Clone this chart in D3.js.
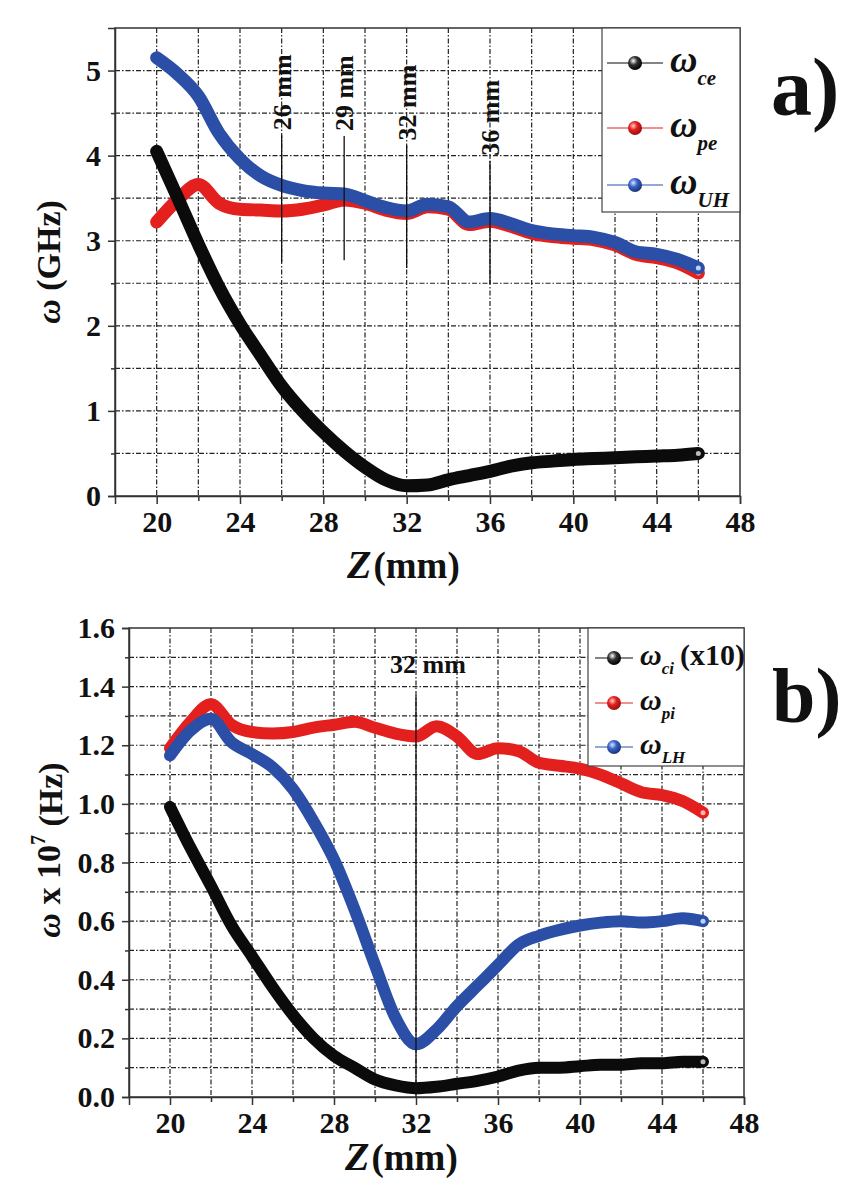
<!DOCTYPE html>
<html>
<head>
<meta charset="utf-8">
<script src="https://cdn.jsdelivr.net/npm/d3@7/dist/d3.min.js"></script>
<style>
  body { margin: 0; background: #ffffff; }
  svg text { font-family: "Liberation Serif", "Times New Roman", serif; font-weight: bold; fill: #111; }
</style>
</head>
<body>
<script>
// positions along the axis (mm)
var zPos = [20, 21, 22, 23, 24, 25, 26, 27, 28, 29, 30, 31, 32, 33, 34, 35, 36, 37, 38, 39, 40, 41, 42, 43, 44, 45, 46];

// panel a) electron frequencies (GHz)
var wce = [4.05, 3.51, 2.96, 2.45, 2.02, 1.65, 1.29, 1.00, 0.75, 0.53, 0.34, 0.19, 0.12, 0.13, 0.19, 0.24, 0.29, 0.35, 0.39, 0.41, 0.43, 0.44, 0.45, 0.46, 0.47, 0.48, 0.50];
var wpe = [3.22, 3.48, 3.66, 3.44, 3.37, 3.36, 3.35, 3.37, 3.42, 3.48, 3.44, 3.36, 3.32, 3.40, 3.37, 3.19, 3.23, 3.17, 3.09, 3.05, 3.03, 3.01, 2.95, 2.84, 2.80, 2.74, 2.62];
var wuh = [5.15, 4.96, 4.70, 4.26, 3.96, 3.76, 3.65, 3.59, 3.56, 3.55, 3.47, 3.39, 3.35, 3.43, 3.40, 3.22, 3.26, 3.20, 3.12, 3.08, 3.06, 3.04, 2.98, 2.87, 2.84, 2.78, 2.68];

// panel b) ion frequencies (x 10^7 Hz)
var wci = [0.99, 0.85, 0.72, 0.585, 0.48, 0.375, 0.28, 0.20, 0.14, 0.10, 0.06, 0.04, 0.03, 0.035, 0.045, 0.055, 0.07, 0.09, 0.10, 0.10, 0.105, 0.11, 0.11, 0.115, 0.115, 0.12, 0.12];
var wpi = [1.19, 1.28, 1.34, 1.27, 1.245, 1.24, 1.245, 1.26, 1.27, 1.28, 1.26, 1.24, 1.23, 1.265, 1.23, 1.17, 1.19, 1.18, 1.14, 1.13, 1.12, 1.10, 1.07, 1.04, 1.03, 1.01, 0.97];
var wlh = [1.165, 1.25, 1.29, 1.21, 1.17, 1.125, 1.05, 0.94, 0.81, 0.64, 0.45, 0.27, 0.18, 0.23, 0.31, 0.38, 0.45, 0.52, 0.55, 0.57, 0.585, 0.595, 0.60, 0.595, 0.60, 0.61, 0.60];

// ticks and grid
var xTicks = [20, 24, 28, 32, 36, 40, 44, 48];
var xMinor = [22, 26, 30, 34, 38, 42, 46];
var xGrid = [20, 22, 24, 26, 28, 30, 32, 34, 36, 38, 40, 42, 44, 46];
var yTicksA = [0, 1, 2, 3, 4, 5];
var yGridA = [0.5, 1, 1.5, 2, 2.5, 3, 3.5, 4, 4.5, 5];
var yTicksB = [0, 0.2, 0.4, 0.6, 0.8, 1.0, 1.2, 1.4, 1.6];
var yGridB = [0.1, 0.2, 0.3, 0.4, 0.5, 0.6, 0.7, 0.8, 0.9, 1.0, 1.1, 1.2, 1.3, 1.4, 1.5];

// marked positions
var markZA = [26, 29, 32, 36];
var markTopA = [4.24, 4.23, 4.12, 3.94];
var markBotA = [2.75, 2.77, 2.68, 2.49];
var markZB = [32];
var markTopB = [1.37];
var markBotB = [0];

var RED = '#e3201d', BLUE = '#2b4fa6', BLACK = '#0b0b0b';

var svg = d3.select('body').append('svg')
  .attr('width', 847)
  .attr('height', 1185);

var defs = svg.append('defs');
[['gk', '#ffffff', '#333', '#000'], ['gr', '#ffd0d0', RED, '#9a1010'], ['gb', '#d8e6ff', '#3a63c8', '#1a3475']]
  .forEach(function (c) {
    var rg = defs.append('radialGradient').attr('id', c[0])
      .attr('cx', '38%').attr('cy', '35%').attr('r', '65%');
    rg.append('stop').attr('offset', '0%').attr('stop-color', c[1]);
    rg.append('stop').attr('offset', '45%').attr('stop-color', c[2]);
    rg.append('stop').attr('offset', '100%').attr('stop-color', c[3]);
  });

function drawPanel(opts) {
  var g = svg.append('g');
  var x = d3.scaleLinear().domain([18, 48]).range([opts.left, opts.right]);
  var y = d3.scaleLinear().domain(opts.yDomain).range([opts.bottom, opts.top]);

  // dash-dot grid
  g.append('g').selectAll('line')
    .data(xGrid)
    .enter().append('line')
    .attr('x1', function (d) { return x(d); })
    .attr('x2', function (d) { return x(d); })
    .attr('y1', opts.top)
    .attr('y2', opts.bottom)
    .attr('stroke', '#222')
    .attr('stroke-width', 1.2)
    .attr('stroke-dasharray', '5,2,1.5,2');
  g.append('g').selectAll('line')
    .data(opts.yGrid)
    .enter().append('line')
    .attr('x1', opts.left)
    .attr('x2', opts.right)
    .attr('y1', function (d) { return y(d); })
    .attr('y2', function (d) { return y(d); })
    .attr('stroke', '#222')
    .attr('stroke-width', 1.2)
    .attr('stroke-dasharray', '5,2,1.5,2');

  // axes
  g.append('g')
    .attr('transform', 'translate(0,' + opts.bottom + ')')
    .call(d3.axisBottom(x).tickValues(xTicks).tickSize(8).tickPadding(7).tickFormat(d3.format('d')));
  g.append('g')
    .attr('transform', 'translate(0,' + opts.bottom + ')')
    .call(d3.axisBottom(x).tickValues(xMinor).tickSize(5).tickFormat(''))
    .select('.domain').remove();
  g.append('g')
    .attr('transform', 'translate(' + opts.left + ',0)')
    .call(d3.axisLeft(y).tickValues(opts.yTicks).tickSize(7).tickPadding(7).tickFormat(opts.fmt));
  g.append('g')
    .attr('transform', 'translate(' + opts.left + ',0)')
    .call(d3.axisLeft(y).tickValues(opts.yMinor).tickSize(4).tickFormat(''))
    .select('.domain').remove();
  g.selectAll('.tick line').attr('stroke', '#333').attr('stroke-width', 1.5);
  g.selectAll('.domain').attr('stroke', '#333').attr('stroke-width', 1.5);
  g.selectAll('.tick text')
    .style('font-size', opts.tickSize + 'px')
    .attr('fill', '#111');

  g.append('rect')
    .attr('x', opts.left)
    .attr('y', opts.top)
    .attr('width', opts.right - opts.left)
    .attr('height', opts.bottom - opts.top)
    .attr('fill', 'none')
    .attr('stroke', '#333')
    .attr('stroke-width', 1.5);

  // curves
  var line = d3.line()
    .x(function (d, i) { return x(zPos[i]); })
    .y(function (d) { return y(d); })
    .curve(d3.curveMonotoneX);

  opts.series.forEach(function (s) {
    g.append('path')
      .attr('d', line(s.values))
      .attr('fill', 'none')
      .attr('stroke', s.color)
      .attr('stroke-width', opts.lineWidth)
      .attr('stroke-linejoin', 'round')
      .attr('stroke-linecap', 'round');
    g.append('circle')
      .attr('cx', x(zPos[zPos.length - 1]))
      .attr('cy', y(s.values[s.values.length - 1]))
      .attr('r', 2.5)
      .attr('fill', s.hi);
  });

  // marked positions
  opts.marks.z.forEach(function (z, i) {
    g.append('line')
      .attr('x1', x(z)).attr('x2', x(z))
      .attr('y1', y(opts.marks.top[i]))
      .attr('y2', y(opts.marks.bottom[i]))
      .attr('stroke', '#111')
      .attr('stroke-width', 1.3);
    if (opts.marks.rotated) {
      g.append('text')
        .attr('transform', 'translate(' + x(z) + ',' + (y(opts.marks.top[i]) - 5) + ') rotate(-90)')
        .attr('dy', '0.35em')
        .style('font-size', opts.markSize + 'px')
        .style('text-anchor', 'start')
        .text(z + ' mm');
    } else {
      g.append('text')
        .attr('x', x(z) + 12)
        .attr('y', y(opts.marks.top[i]) - 22)
        .style('font-size', opts.markSize + 'px')
        .style('text-anchor', 'middle')
        .text(z + ' mm');
    }
  });

  // legend
  var lg = opts.legend;
  g.append('rect')
    .attr('x', lg.x).attr('y', opts.top)
    .attr('width', opts.right - lg.x)
    .attr('height', lg.h)
    .attr('fill', 'white')
    .attr('stroke', '#444')
    .attr('stroke-width', 1.2);
  opts.series.forEach(function (s) {
    var ry = opts.top + lg.rows[s.leg];
    g.append('line')
      .attr('x1', lg.x + lg.l1).attr('x2', lg.x + lg.l2)
      .attr('y1', ry).attr('y2', ry)
      .attr('stroke', s.color)
      .attr('stroke-width', 1);
    g.append('circle')
      .attr('cx', lg.x + (lg.l1 + lg.l2) / 2)
      .attr('cy', ry)
      .attr('r', lg.r)
      .attr('fill', 'url(#' + s.grad + ')');
    var t = g.append('text')
      .attr('x', lg.x + lg.tx)
      .attr('y', ry + lg.dy)
      .style('font-size', lg.size + 'px');
    t.append('tspan').style('font-style', 'italic').text('\u03c9');
    t.append('tspan')
      .attr('dy', lg.subDy)
      .style('font-style', 'italic')
      .style('font-size', lg.subSize + 'px')
      .text(s.sub);
    if (s.extra) {
      t.append('tspan')
        .attr('dy', -lg.subDy)
        .attr('dx', 6)
        .text(s.extra);
    }
  });

  // panel letter
  svg.append('text')
    .attr('x', opts.letter[0])
    .attr('y', opts.letter[1])
    .style('font-size', opts.letter[3] + 'px')
    .text(opts.letter[2]);

  // axis titles
  var xt = svg.append('text')
    .attr('x', opts.xTitle[0])
    .attr('y', opts.xTitle[1])
    .style('font-size', '37px');
  xt.append('tspan').style('font-style', 'italic').style('font-size', '40px').text('Z');
  xt.append('tspan').attr('dx', 2).text('(mm)');

  var yt = svg.append('text')
    .attr('transform', 'translate(' + opts.yTitle[0] + ',' + opts.yTitle[1] + ') rotate(-90)')
    .style('text-anchor', 'middle')
    .style('font-size', '34px');
  opts.yTitleParts.forEach(function (p) {
    var sp = yt.append('tspan').text(p.t);
    if (p.italic) sp.style('font-style', 'italic');
    if (p.dy) sp.attr('dy', p.dy);
    if (p.size) sp.style('font-size', p.size + 'px');
  });
}

drawPanel({
  left: 115, right: 740, top: 28, bottom: 496,
  yDomain: [0, 5.5],
  yTicks: yTicksA,
  yMinor: [0.5, 1.5, 2.5, 3.5, 4.5],
  yGrid: yGridA,
  fmt: d3.format('d'),
  tickSize: 30,
  lineWidth: 13,
  markSize: 26,
  marks: { z: markZA, top: markTopA, bottom: markBotA, rotated: true },
  series: [
    { values: wpe, color: RED, hi: '#ffb0b0', grad: 'gr', sub: 'pe', leg: 1 },
    { values: wuh, color: BLUE, hi: '#b8d4f4', grad: 'gb', sub: 'UH', leg: 2 },
    { values: wce, color: BLACK, hi: '#bbbbbb', grad: 'gk', sub: 'ce', leg: 0 }
  ],
  legend: { x: 602, h: 184, rows: [35, 100, 157], l1: 5, l2: 61, r: 7, tx: 68, dy: 9, size: 38, subDy: 13, subSize: 21 },
  letter: [771, 115, 'a)', 82],
  xTitle: [347, 578],
  yTitle: [60, 262],
  yTitleParts: [{ t: '\u03c9', italic: true }, { t: ' (GHz)' }]
});

drawPanel({
  left: 129, right: 744, top: 628, bottom: 1097,
  yDomain: [0, 1.6],
  yTicks: yTicksB,
  yMinor: [0.1, 0.3, 0.5, 0.7, 0.9, 1.1, 1.3, 1.5],
  yGrid: yGridB,
  fmt: d3.format('.1f'),
  tickSize: 30,
  lineWidth: 12,
  markSize: 26,
  marks: { z: markZB, top: markTopB, bottom: markBotB, rotated: false },
  series: [
    { values: wpi, color: RED, hi: '#ffb0b0', grad: 'gr', sub: 'pi', leg: 1 },
    { values: wlh, color: BLUE, hi: '#b8d4f4', grad: 'gb', sub: 'LH', leg: 2 },
    { values: wci, color: BLACK, hi: '#bbbbbb', grad: 'gk', sub: 'ci', extra: '(x10)', leg: 0 }
  ],
  legend: { x: 588, h: 138, rows: [30, 75, 119], l1: 7, l2: 45, r: 7, tx: 52, dy: 7, size: 30, subDy: 9, subSize: 17 },
  letter: [772, 722, 'b)', 78],
  xTitle: [345, 1170],
  yTitle: [60, 850],
  yTitleParts: [{ t: '\u03c9', italic: true }, { t: ' x 10' }, { t: '7', dy: '-0.75em', size: 20 }, { t: ' (Hz)', dy: '0.5em' }]
});
</script>
</body>
</html>
